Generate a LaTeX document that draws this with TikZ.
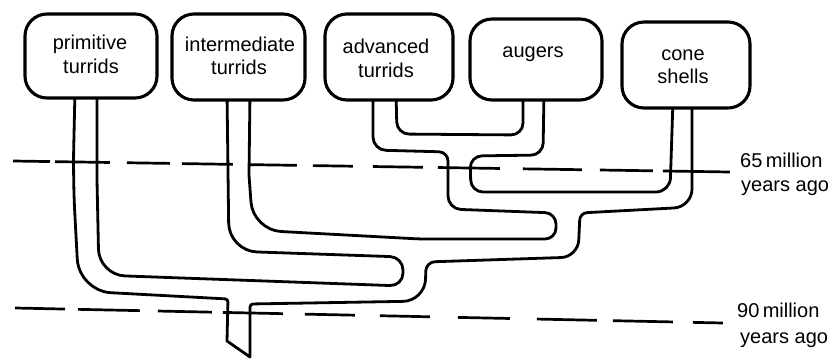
\documentclass[tikz,border=0pt]{standalone}
\usepackage{fontspec}
\setmainfont{Liberation Sans}
\begin{document}
\begin{tikzpicture}[x=1pt,y=-1pt,
  wall/.style={line width=2.8pt,line join=round,line cap=round},
  box/.style={draw,fill=white,line width=3.1pt,rounded corners=22pt,inner sep=0pt},
  lbl/.style={font=\fontsize{20}{24}\selectfont,anchor=base,inner sep=0pt},
  side/.style={font=\fontsize{20}{24}\selectfont,anchor=base west,inner sep=0pt},
  era/.style={line width=2.7pt}]
\useasboundingbox (0,0) rectangle (833,359);
\fill[white] (0,0) rectangle (833,359);

% outer wall: cone shells right side, round to trunk tip, up to primitive left side
\draw[wall] (692,98) [rounded corners=18pt] -- (692,207) [rounded corners=7pt] -- (580,213)
  [rounded corners=17pt] -- (578,257) [rounded corners=9pt] -- (426,262)
  [rounded corners=22pt] -- (425,301) [rounded corners=3pt] -- (250,304)
  [sharp corners] -- (250,357) -- (227,341) [rounded corners=3pt] -- (228,299)
  [rounded corners=32pt] -- (79,291) -- (73,180) -- (75,90);
% primitive / intermediate
\draw[wall] (97,90) -- (97,180) [rounded corners=26pt] -- (99,275)
  [rounded corners=13pt] -- (403,286) -- (403,257)
  [rounded corners=28pt] -- (229,251) [sharp corners] -- (227,92);
% intermediate / advanced
\draw[wall] (250,92) -- (249,175) [rounded corners=28pt] -- (253,230)
  [rounded corners=6pt] -- (420,239) [rounded corners=11pt] -- (556,239) -- (556,213)
  [rounded corners=13pt] -- (448,209) [rounded corners=9pt] -- (448,152)
  [rounded corners=13pt] -- (373,150) [sharp corners] -- (373,92);
% advanced / augers
\draw[wall] (396,92) [rounded corners=12pt] -- (397,134) -- (523,135) -- (523,92);
% augers / cone shells
\draw[wall] (544,92) [rounded corners=12pt] -- (543,155) -- (470,156) -- (471,192)
  [rounded corners=14pt] -- (670,192) [sharp corners] -- (673,100);

% time lines
\coordinate (s65) at (13,161);
\coordinate (e65) at (730,172);
\draw[era, dash pattern=on 37pt off 5pt on 55pt off 17pt on 43pt off 12pt on 51pt off 17pt on 47pt off 16pt on 40pt off 20pt on 50pt off 15pt on 62pt off 23pt on 59pt off 18pt on 53pt off 10pt on 67pt off 200pt] (s65) -- (e65);
\coordinate (s90) at (15,308);
\coordinate (e90) at (723,323);
\draw[era, dash pattern=on 50pt off 13pt on 62pt off 18pt on 54pt off 11pt on 60pt off 22pt on 50pt off 25pt on 50pt off 28pt on 52pt off 27pt on 60pt off 16pt on 60pt off 20pt on 30pt off 200pt] (s90) -- (e90);

% boxes
\node[box,minimum width=132pt,minimum height=84pt] (p) at (91,56) {};
\node[box,minimum width=133pt,minimum height=86pt] (i) at (238.5,57) {};
\node[box,minimum width=128pt,minimum height=86pt] (a) at (389,57) {};
\node[box,minimum width=132pt,minimum height=81pt] (g) at (536,59.5) {};
\node[box,minimum width=128pt,minimum height=86pt] (c) at (686,65) {};

% labels
\node[lbl] (p1) at (90,49) {primitive};
\node[lbl] (p2) at (91,73) {turrids};
\node[lbl] (i1) at (240,51) {intermediate};
\node[lbl] (i2) at (239,74) {turrids};
\node[lbl] (a1) at (386,53) {advanced};
\node[lbl] (a2) at (386,77) {turrids};
\node[lbl] (g1) at (533,57) {augers};
\node[lbl] (c1) at (683,60) {cone};
\node[lbl] (c2) at (683,83) {shells};

\node[side] (t65a) at (740,167) {65\,million};
\node[side] (t65b) at (741,191) {years ago};
\node[side] (t90a) at (737,317) {90\,million};
\node[side] (t90b) at (740,343) {years ago};
\end{tikzpicture}
\end{document}
